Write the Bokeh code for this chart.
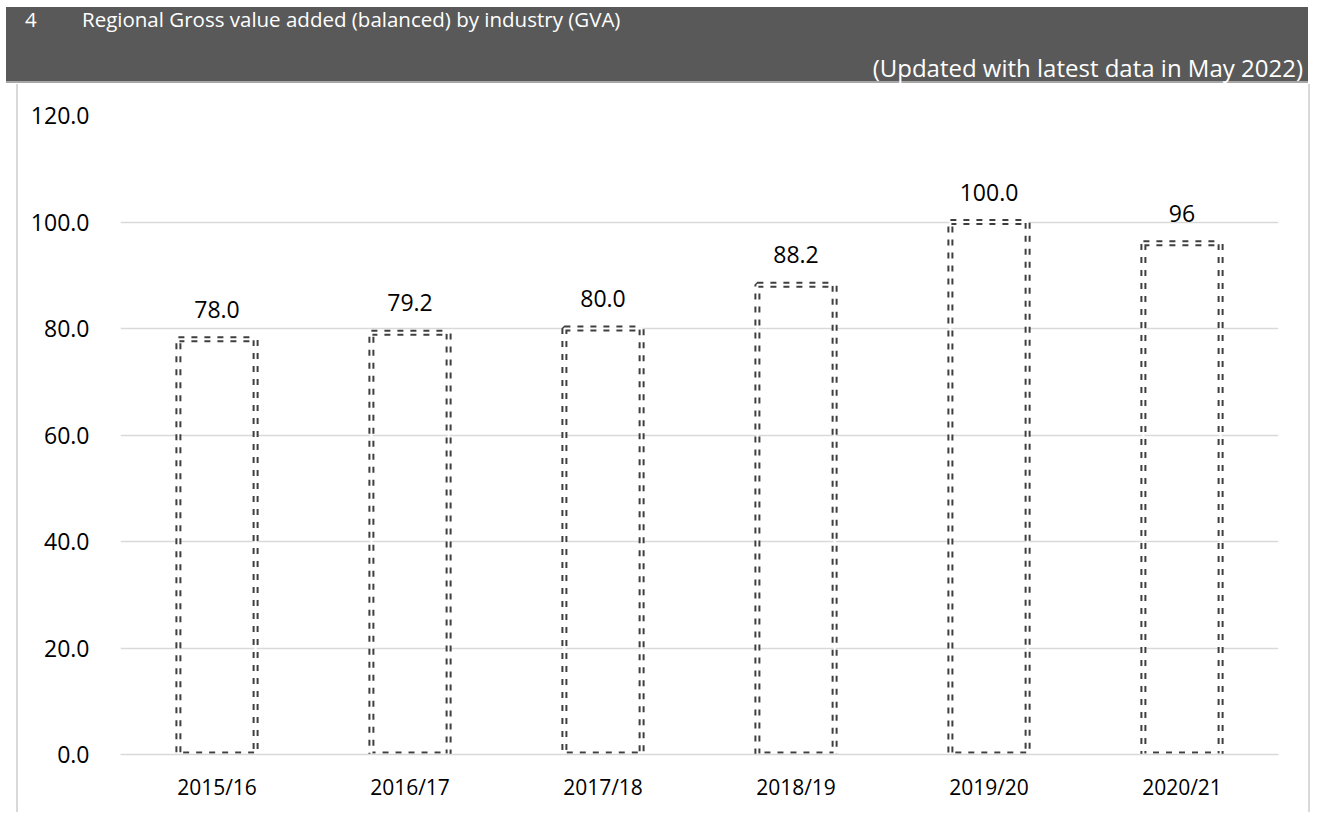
from bokeh.plotting import figure
from bokeh.models import Range1d, FixedTicker, ColumnDataSource, NumeralTickFormatter, Div
from bokeh.layouts import column
from bokeh.core.properties import value
from bokeh.embed import file_html
from bokeh.resources import INLINE

# ---- data ----
years = ["2015/16", "2016/17", "2017/18", "2018/19", "2019/20", "2020/21"]
gva = [78.0, 79.2, 80.0, 88.2, 100.0, 96]
gva_labels = ["78.0", "79.2", "80.0", "88.2", "100.0", "96"]
y_ticks = [0, 20, 40, 60, 80, 100, 120]

title_num = "4"
title_text = "Regional Gross value added (balanced) by industry (GVA)"
subtitle_text = "(Updated with latest data in May 2022)"

FONT = "Open Sans"

# ---- header band ----
header_html = (
    '<div style="position:relative;width:1302px;height:76px;background:#595959;'
    'box-sizing:border-box;border-bottom:2px solid #a6a6a6;'
    "font-family:'Open Sans';color:#ffffff;white-space:nowrap;\">"
    '<span style="position:absolute;left:19px;top:0px;font-size:20.5px;line-height:24px;">'
    + title_num + '</span>'
    '<span style="position:absolute;left:76px;top:0px;font-size:20.5px;line-height:24px;">'
    + title_text + '</span>'
    '<span style="position:absolute;right:5px;top:47px;font-size:24px;line-height:28px;">'
    + subtitle_text + '</span>'
    '</div>'
)
hdr = Div(text=header_html, width=1302, height=76, margin=(7, 0, 0, 6))

# ---- main chart ----
src = ColumnDataSource(dict(year=years, v=gva, lab=gva_labels))
p = figure(width=1290, height=728, x_range=years, y_range=Range1d(0, 120),
           output_backend="svg", toolbar_location=None,
           min_border_left=102, min_border_right=30, min_border_top=31, min_border_bottom=58,
           outline_line_color=None, background_fill_color="white", border_fill_color="white",
           margin=(1, 0, 0, 18))
p.styles = {"box-shadow": "-2px 0 0 0 #d9d9d9, 2px 0 0 0 #d9d9d9"}

# double dashed outline bars
p.vbar(x="year", top="v", width=0.40, source=src, fill_color=None,
       line_color="#3f3f3f", line_width=6, line_dash="6 7")
p.vbar(x="year", top="v", width=0.40, source=src, fill_color=None,
       line_color="white", line_width=2)

p.text(x="year", y="v", text="lab", source=src, text_font=value(FONT),
       text_font_size="23px", text_color="#000000", text_align="center",
       text_baseline="alphabetic", y_offset=-30)

p.yaxis.ticker = FixedTicker(ticks=y_ticks)
p.yaxis.formatter = NumeralTickFormatter(format="0.0")
p.yaxis.axis_line_color = None
p.yaxis.major_tick_line_color = None
p.yaxis.minor_tick_line_color = None
p.yaxis.major_label_text_font = FONT
p.yaxis.major_label_text_font_size = "23px"
p.yaxis.major_label_text_color = "#000000"
p.yaxis.major_label_standoff = 25

p.xaxis.axis_line_color = "#d9d9d9"
p.xaxis.axis_line_width = 1.5
p.xaxis.major_tick_line_color = None
p.xaxis.minor_tick_line_color = None
p.xaxis.major_label_text_font = FONT
p.xaxis.major_label_text_font_size = "21px"
p.xaxis.major_label_text_color = "#000000"
p.xaxis.major_label_standoff = 12

p.xgrid.grid_line_color = None
p.ygrid.grid_line_color = "#d9d9d9"
p.ygrid.grid_line_width = 1.5

layout = column(hdr, p, spacing=0)
open("out.html", "w").write(file_html(layout, INLINE))
